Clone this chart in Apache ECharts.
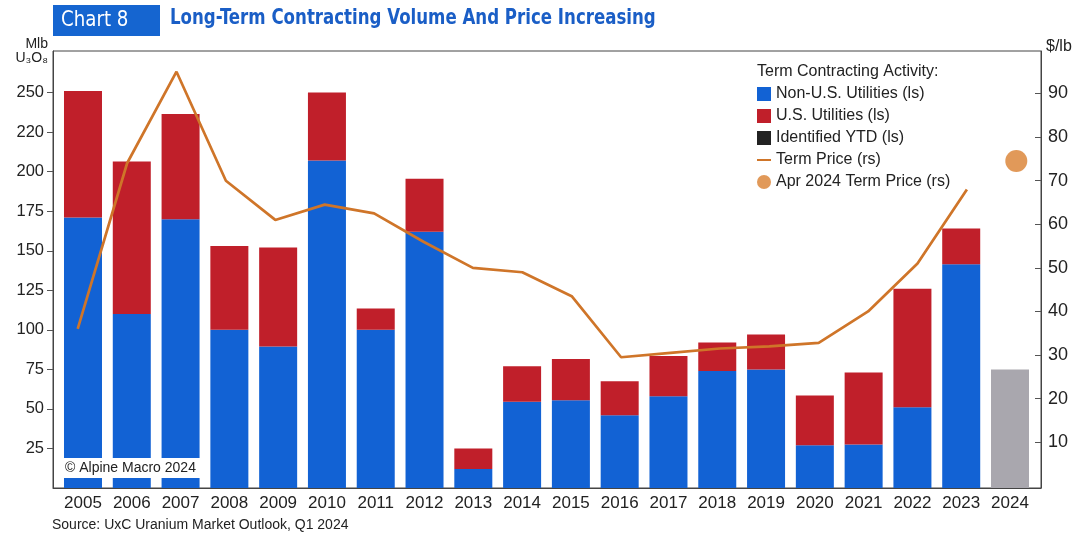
<!DOCTYPE html>
<html>
<head>
<meta charset="utf-8">
<script src="https://cdn.jsdelivr.net/npm/echarts@6/dist/echarts.min.js"></script>
<style>
  html, body { margin: 0; padding: 0; background: #fff; }
  #chart { width: 1077px; height: 536px; }
</style>
</head>
<body>
<div id="chart"></div>
<script>
// Term contracting volumes (Mlb U3O8) and long-term price ($/lb)
const years = ['2005','2006','2007','2008','2009','2010','2011','2012','2013','2014',
               '2015','2016','2017','2018','2019','2020','2021','2022','2023','2024'];
const nonUSUtilities = [171, 110, 170, 100, 89.5, 207, 100, 162, 12, 54.5,
                        55.5, 46, 58, 74, 75, 27, 27.5, 51, 141.5, null];
const usUtilities = [80, 96.5, 66.5, 53, 62.5, 43, 13.5, 33.5, 13, 22.5,
                     26, 21.5, 25.5, 18, 22, 31.5, 45.5, 75, 22.5, null];
const identifiedYTD = [null, null, null, null, null, null, null, null, null, null,
                       null, null, null, null, null, null, null, null, null, 75];
const termPrice = [36, 74, 95, 70, 61, 64.5, 62.5, 56, 50, 49,
                   43.5, 29.5, 30.5, 31.5, 32, 32.8, 40, 51, 68, null];
const aprTermPrice = [['2024', 74.5]];
const leftTickValues = [25, 50, 75, 100, 125, 150, 175, 200, 225, 250];
const leftTickLabels = ['25', '50', '75', '100', '125', '150', '175', '200', '220', '250'];
const rightTickValues = [10, 20, 30, 40, 50, 60, 70, 80, 90];

const FONT = '"Liberation Sans", Arial, sans-serif';
const NARROW = '"DejaVu Sans Condensed", "Liberation Sans", sans-serif';
const BLUE = '#1262d4';
const RED = '#c01f2a';
const GRAY = '#a9a7ae';
const ORANGE = '#cf7529';
const INK = '#222';

// thin horizontal stroke used as the price line's legend key
const LINE_ICON = 'path://M0,0L0.05,0L0.05,0.05Z M0,6L20,6L20,8.8L0,8.8Z M0,14.6L0.05,14.6L0.05,14.65Z';

const chart = echarts.init(document.getElementById('chart'), null, { renderer: 'canvas' });

chart.setOption({
  animation: false,
  backgroundColor: '#fff',
  textStyle: { fontFamily: FONT },
  grid: [
    // frame grid: axes and the price line
    { left: 53, right: 36, top: 51, bottom: 48, show: true, borderColor: '#444', borderWidth: 1, backgroundColor: 'transparent' },
    // bar grid: slightly inset category bands
    { left: 58.6, right: 42.6, top: 51, bottom: 48 }
  ],
  xAxis: [
    {
      gridIndex: 0, type: 'category', data: years, boundaryGap: true,
      axisLine: { show: true, lineStyle: { color: '#444', width: 1 } },
      axisTick: { show: false }, axisLabel: { show: false }
    },
    {
      gridIndex: 1, type: 'category', data: years, boundaryGap: true,
      axisLine: { show: false }, axisTick: { show: false },
      axisLabel: { interval: 0, hideOverlap: false, fontSize: 17, color: INK, margin: 7, fontFamily: FONT }
    }
  ],
  yAxis: [
    {
      gridIndex: 0, type: 'value', position: 'left', min: 0, max: 276.3,
      splitLine: { show: false },
      axisLine: { show: true, lineStyle: { color: '#444' } },
      axisTick: { show: true, inside: false, length: 6, lineStyle: { color: '#555' }, customValues: leftTickValues },
      axisLabel: {
        customValues: leftTickValues, fontSize: 16.5, color: INK, margin: 9, fontFamily: FONT,
        formatter: v => leftTickLabels[leftTickValues.indexOf(v)]
      }
    },
    {
      gridIndex: 0, type: 'value', position: 'right', min: -0.5, max: 99.75,
      splitLine: { show: false },
      axisLine: { show: true, lineStyle: { color: '#444' } },
      axisTick: { show: true, inside: true, length: 6, lineStyle: { color: '#555' }, customValues: rightTickValues },
      axisLabel: { customValues: rightTickValues, fontSize: 18, color: INK, margin: 7, fontFamily: FONT }
    },
    {
      gridIndex: 1, type: 'value', min: 0, max: 276.3, show: false
    }
  ],
  legend: {
    orient: 'vertical', left: 757, top: 86, padding: 0,
    itemWidth: 14, itemHeight: 14, itemGap: 6,
    textStyle: { fontSize: 16, lineHeight: 16, color: INK, fontFamily: FONT },
    data: [
      { name: 'Non-U.S. Utilities (ls)', icon: 'rect' },
      { name: 'U.S. Utilities (ls)', icon: 'rect' },
      { name: 'Identified YTD (ls)', icon: 'rect', itemStyle: { color: '#222' } },
      { name: 'Term Price (rs)', icon: LINE_ICON, itemStyle: { color: ORANGE } },
      { name: 'Apr 2024 Term Price (rs)', icon: 'circle' }
    ]
  },
  series: [
    {
      name: 'Non-U.S. Utilities (ls)', type: 'bar', stack: 'vol',
      xAxisIndex: 1, yAxisIndex: 2, barWidth: 38,
      itemStyle: { color: BLUE }, data: nonUSUtilities
    },
    {
      name: 'U.S. Utilities (ls)', type: 'bar', stack: 'vol',
      xAxisIndex: 1, yAxisIndex: 2, barWidth: 38,
      itemStyle: { color: RED }, data: usUtilities
    },
    {
      name: 'Identified YTD (ls)', type: 'bar', stack: 'vol',
      xAxisIndex: 1, yAxisIndex: 2, barWidth: 38,
      itemStyle: { color: GRAY }, data: identifiedYTD
    },
    {
      name: 'Term Price (rs)', type: 'line', xAxisIndex: 0, yAxisIndex: 1,
      symbol: 'none', lineStyle: { color: ORANGE, width: 2.7 }, itemStyle: { color: ORANGE },
      data: termPrice, z: 5
    },
    {
      name: 'Apr 2024 Term Price (rs)', type: 'scatter', xAxisIndex: 0, yAxisIndex: 1,
      symbol: 'circle', symbolSize: 22, itemStyle: { color: '#d9802f' },
      data: aprTermPrice, z: 6
    }
  ],
  graphic: [
    { type: 'rect', left: 53, top: 5, shape: { width: 107, height: 31 }, style: { fill: '#1565d0' } },
    { type: 'text', x: 61, y: 9, scaleX: 0.92, style: { text: 'Chart 8', fill: '#fff', font: '22px ' + NARROW } },
    { type: 'text', x: 170, y: 8, scaleX: 0.88, style: { text: 'Long-Term Contracting Volume And Price Increasing', fill: '#1a5ec6', font: 'bold 21px ' + NARROW } },
    { type: 'text', right: 1077 - 48, top: 37, style: { text: 'Mlb', fill: INK, font: '14px ' + FONT, align: 'right' } },
    { type: 'text', right: 1077 - 48, top: 51, style: { text: 'U₃O₈', fill: INK, font: '14px ' + FONT, align: 'right' } },
    { type: 'text', left: 1046, top: 39, style: { text: '$/lb', fill: INK, font: '16px ' + FONT } },
    { type: 'text', left: 757, top: 64, style: { text: 'Term Contracting Activity:', fill: INK, font: '16px ' + FONT } },
    { type: 'rect', left: 54, top: 458, z: 100, shape: { width: 146, height: 20 }, style: { fill: '#fff' } },
    { type: 'text', left: 65, top: 461, z: 101, style: { text: '© Alpine Macro 2024', fill: INK, font: '14px ' + FONT } },
    { type: 'text', left: 52, top: 518, style: { text: 'Source: UxC Uranium Market Outlook, Q1 2024', fill: INK, font: '14px ' + FONT } }
  ]
});
</script>
</body>
</html>
